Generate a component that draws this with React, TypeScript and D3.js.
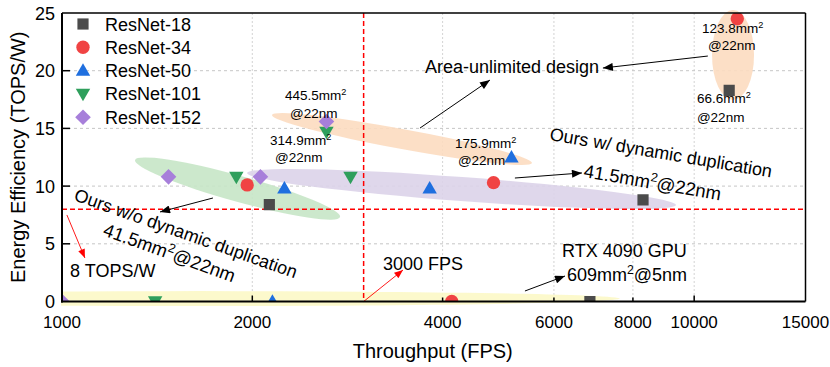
import React from "react"
import * as d3 from "d3"

// series: throughput (FPS) and energy efficiency (TOPS/W)
const seriesNames = ["ResNet-18", "ResNet-34", "ResNet-50", "ResNet-101", "ResNet-152"]
const seriesColors = ["#4b4b4b", "#f04343", "#1f6fdf", "#2f9f5c", "#a77fda"]

const resnet18Fps = [2128, 8300, 11360, 6840]
const resnet18Eff = [8.4, 8.8, 18.3, 0]
const resnet34Fps = [1963, 4815, 11700, 4135]
const resnet34Eff = [10.1, 10.3, 24.5, 0]
const resnet50Fps = [2248, 3816, 5140, 2152]
const resnet50Eff = [9.8, 9.8, 12.5, 0]
const resnet101Fps = [1887, 2860, 2620, 1404]
const resnet101Eff = [10.8, 10.8, 14.7, 0]
const resnet152Fps = [1474, 2060, 2620, 1000]
const resnet152Eff = [10.8, 10.8, 15.6, 0]

const xTicks = [1000, 2000, 4000, 6000, 8000, 10000, 15000]
const xMajor = [2000, 10000]
const xGrid = [2000, 4000, 6000, 8000, 10000]
const yTicks = [0, 5, 10, 15, 20, 25]
const yGrid = [5, 10, 15, 20]

const fpsLimit = 3000
const effLimit = 8

// shaded groups: two ends in data units, half width in px
const groups = [
  { from: [1305, 12.26], to: [2753, 7.32], hw: 13, fill: "#c6e6c6", clip: false },
  { from: [2149, 16.16], to: [5540, 12.0], hw: 10, fill: "#fcdcc0", clip: false },
  { from: [1962, 11.13], to: [9360, 8.36], hw: 12, fill: "#dcd3e9", clip: false },
  { from: [11520, 25.26], to: [11520, 17.46], hw: 21, fill: "#fcdcc0", clip: false },
  { from: [358, 0.25], to: [7630, 0.25], hw: 7.5, fill: "#fcf8c6", clip: true },
]

// text annotations: anchor in data units, rotation
const notes = [
  { at: [2253, 17.46], lines: ["445.5mm²", "@22nm"], dx: 5, dy: 18, size: 13.5, rot: 0 },
  { at: [2133, 13.56], lines: ["314.9mm²", "@22nm"], dx: 5, dy: 17, size: 13.5, rot: 0 },
  { at: [10290, 23.27], lines: ["123.8mm²", "@22nm"], dx: 6, dy: 17, size: 13.5, rot: 0 },
  { at: [10100, 17.2], lines: ["66.6mm²", "@22nm"], dx: 0, dy: 19, size: 13.5, rot: 0 },
  { at: [4183, 13.3], lines: ["175.9mm²", "@22nm"], dx: 3, dy: 17, size: 13.5, rot: 0 },
  { at: [3752, 19.8], lines: ["Area-unlimited design"], dx: 0, dy: 0, size: 18, rot: 0 },
  { at: [5893, 14.0], lines: ["Ours w/ dynamic duplication"], dx: 0, dy: 0, size: 18, rot: 9.6 },
  { at: [6671, 10.79], lines: ["41.5mm²@22nm"], dx: 0, dy: 0, size: 18.5, rot: 9.7 },
  { at: [1041, 8.8], lines: ["Ours w/o dynamic duplication"], dx: 0, dy: 0, size: 18, rot: 19.5 },
  { at: [1157, 5.76], lines: ["41.5mm²@22nm"], dx: 0, dy: 0, size: 18.5, rot: 20 },
  { at: [1030, 2.12], lines: ["8 TOPS/W"], dx: 0, dy: 0, size: 18, rot: 0 },
  { at: [3220, 2.73], lines: ["3000 FPS"], dx: 0, dy: 0, size: 18, rot: 0 },
  { at: [6180, 3.86], lines: ["RTX 4090 GPU"], dx: 0, dy: 0, size: 18, rot: 0 },
  { at: [6292, 1.78], lines: ["609mm²@5nm"], dx: 0, dy: 0, size: 18, rot: 0 },
]

const arrows = [
  { from: [10510, 21.27], to: [7172, 20.23], red: false },
  { from: [3684, 15.03], to: [4753, 19.19], red: false },
  { from: [5205, 10.7], to: [6645, 11.14], red: false },
  { from: [1733, 8.97], to: [1429, 7.76], red: false },
  { from: [1018, 7.5], to: [1087, 3.77], red: true },
  { from: [3000, 0], to: [3463, 2.73], red: true },
  { from: [5399, 0.91], to: [6247, 2.21], red: false },
]

const W = 830
const H = 367
const left = 62
const right = 805.5
const top = 13
const bottom = 301.5
const font = "'Liberation Sans', Arial, Helvetica, sans-serif"

const x = d3.scaleLog().domain([1000, 15000]).range([left, right])
const y = d3.scaleLinear().domain([0, 25]).range([bottom, top])

const square = d3.symbol().type(d3.symbolSquare).size(125)
const circle = d3.symbol().type(d3.symbolCircle).size(140)
const tri = d3.symbol().type(d3.symbolTriangle).size(90)
const diamondPath = "M0,-7.8L7.8,0L0,7.8L-7.8,0Z"

function Marker({ i, cx, cy }: { i: number; cx: number; cy: number }) {
  const c = seriesColors[i]
  if (i === 0) return <path d={square()!} transform={`translate(${cx},${cy})`} fill={c} />
  if (i === 1) return <path d={circle()!} transform={`translate(${cx},${cy})`} fill={c} />
  if (i === 2) return <path d={tri()!} transform={`translate(${cx},${cy + 1})`} fill={c} />
  if (i === 3) return <path d={tri()!} transform={`translate(${cx},${cy - 1}) rotate(180)`} fill={c} />
  return <path d={diamondPath} transform={`translate(${cx},${cy})`} fill={c} />
}

// text with the "²" raised like the original
function Label({ text, size }: { text: string; size: number }) {
  const parts = text.split("²")
  if (parts.length === 1) return <>{text}</>
  const rise = size * 0.4
  return (
    <>
      <tspan>{parts[0]}</tspan>
      <tspan fontSize={size * 0.68} dy={-rise}>2</tspan>
      <tspan dy={rise}>{parts[1]}</tspan>
    </>
  )
}

export default function App() {
  const fpsSets = [resnet18Fps, resnet34Fps, resnet50Fps, resnet101Fps, resnet152Fps]
  const effSets = [resnet18Eff, resnet34Eff, resnet50Eff, resnet101Eff, resnet152Eff]

  return (
    <svg width={W} height={H} style={{ position: "absolute", left: 0, top: 0, background: "#fff" }} fontFamily={font}>
      <defs>
        <clipPath id="plot">
          <rect x={left} y={top} width={right - left} height={bottom - top} />
        </clipPath>
        <clipPath id="band">
          <rect x={left - 1} y={0} width={right - left} height={H} />
        </clipPath>
        <marker id="headK" viewBox="0 0 10 8" refX="10" refY="4" markerWidth="11" markerHeight="8" markerUnits="userSpaceOnUse" orient="auto">
          <path d="M0,0L10,4L0,8Z" fill="#000" />
        </marker>
        <marker id="headR" viewBox="0 0 10 8" refX="10" refY="4" markerWidth="10" markerHeight="7" markerUnits="userSpaceOnUse" orient="auto">
          <path d="M0,0L10,4L0,8Z" fill="#f00" />
        </marker>
      </defs>

      {/* grid */}
      {yGrid.map(v => (
        <line key={"gy" + v} x1={left} x2={right} y1={y(v)} y2={y(v)} stroke="#b8b8b8" strokeWidth={0.8} strokeDasharray="3,3" />
      ))}
      {xGrid.map(v => (
        <line key={"gx" + v} x1={x(v)} x2={x(v)} y1={top} y2={bottom} stroke="#c8c8c8" strokeWidth={0.8} strokeDasharray="2,2" />
      ))}

      {/* shaded groups */}
      {groups.map((g, k) => {
        const x1 = x(g.from[0]), y1 = y(g.from[1]), x2 = x(g.to[0]), y2 = y(g.to[1])
        const cx = (x1 + x2) / 2, cy = (y1 + y2) / 2
        const len = Math.hypot(x2 - x1, y2 - y1) / 2
        const ang = (Math.atan2(y2 - y1, x2 - x1) * 180) / Math.PI
        const el = (
          <ellipse cx={0} cy={0} rx={len} ry={g.hw} fill={g.fill} fillOpacity={0.9}
            transform={`translate(${cx},${cy}) rotate(${ang})`} />
        )
        return g.clip
          ? <g key={"e" + k} clipPath="url(#band)">{el}</g>
          : <g key={"e" + k}>{el}</g>
      })}

      {/* limit lines */}
      <line x1={left} x2={right} y1={y(effLimit)} y2={y(effLimit)} stroke="#f00" strokeWidth={1.5} strokeDasharray="5,3" />
      <line x1={x(fpsLimit)} x2={x(fpsLimit)} y1={top} y2={bottom} stroke="#f00" strokeWidth={1.5} strokeDasharray="5,3" />

      {/* points */}
      <g clipPath="url(#plot)">
        {fpsSets.map((fs, i) =>
          fs.map((f, j) => <Marker key={i + "-" + j} i={i} cx={x(f)} cy={y(effSets[i][j])} />)
        )}
      </g>

      {/* arrows */}
      {arrows.map((a, k) => (
        <line key={"a" + k} x1={x(a.from[0])} y1={y(a.from[1])} x2={x(a.to[0])} y2={y(a.to[1])}
          stroke={a.red ? "#f00" : "#000"} strokeWidth={a.red ? 0.9 : 1}
          markerEnd={a.red ? "url(#headR)" : "url(#headK)"} />
      ))}

      {/* annotations */}
      {notes.map((n, k) => {
        const ax = x(n.at[0]), ay = y(n.at[1])
        return (
          <g key={"n" + k} transform={`translate(${ax},${ay}) rotate(${n.rot})`}>
            {n.lines.map((t, l) => (
              <text key={l} x={l * n.dx} y={l * n.dy} fontSize={n.size} fill="#000">
                <Label text={t} size={n.size} />
              </text>
            ))}
          </g>
        )
      })}

      {/* legend */}
      {seriesNames.map((s, i) => (
        <g key={s} transform={`translate(0,${24 + i * 23.3})`}>
          <Marker i={i} cx={83} cy={0} />
          <text x={105} y={6.5} fontSize={18}>{s}</text>
        </g>
      ))}

      {/* frame and axes */}
      <line x1={left} x2={right} y1={top} y2={top} stroke="#000" strokeWidth={1.5} />
      <line x1={right} x2={right} y1={top} y2={bottom} stroke="#000" strokeWidth={1.5} />
      <line x1={left} x2={left} y1={top} y2={bottom + 1} stroke="#000" strokeWidth={2} />
      <line x1={left - 1} x2={right} y1={bottom} y2={bottom} stroke="#000" strokeWidth={2} />

      {xTicks.map(v => (
        <g key={"xt" + v}>
          {v > 1000 && v < 15000 && (
            <line x1={x(v)} x2={x(v)} y1={bottom} y2={bottom - (xMajor.includes(v) ? 6 : 4)} stroke="#000" strokeWidth={1.5} />
          )}
          <text x={x(v)} y={328} fontSize={17} textAnchor="middle">{v}</text>
        </g>
      ))}
      {yTicks.map(v => (
        <g key={"yt" + v}>
          {v > 0 && v < 25 && <line x1={left} x2={left + 8} y1={y(v)} y2={y(v)} stroke="#000" strokeWidth={1.5} />}
          <text x={55} y={y(v) + 6.5} fontSize={18} textAnchor="end">{v}</text>
        </g>
      ))}

      <text x={(left + right) / 2 - 1} y={358} fontSize={20} textAnchor="middle">Throughput (FPS)</text>
      <text transform={`translate(25,${(top + bottom) / 2}) rotate(-90)`} fontSize={20} textAnchor="middle">
        Energy Efficiency (TOPS/W)
      </text>
    </svg>
  )
}
